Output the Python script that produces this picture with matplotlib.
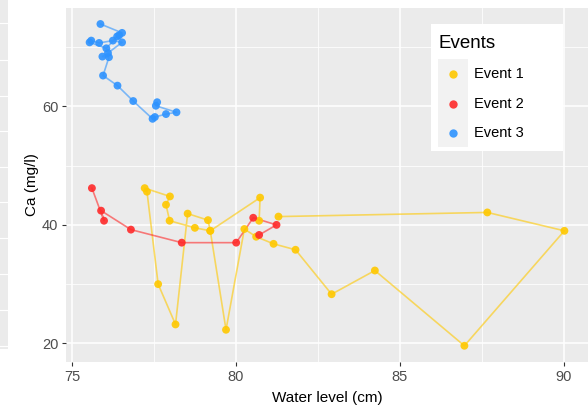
import numpy as np
import matplotlib
matplotlib.use('Agg')
import matplotlib.pyplot as plt
from matplotlib.patches import Rectangle
from matplotlib.lines import Line2D

plt.rcParams['font.family'] = ['Liberation Sans', 'DejaVu Sans']

# Event 1 (yellow) in sampling order
lvl1 = [80.71, 80.74, 79.22, 79.15, 78.53, 78.16, 77.63, 77.29, 77.22, 77.99,
        77.87, 77.98, 78.75, 79.22, 79.70, 80.26, 80.62, 81.15, 81.82, 82.92,
        84.24, 86.97, 90.02, 87.67, 81.30]
ca1 = [40.7, 44.6, 39.0, 40.8, 41.9, 23.2, 30.0, 45.6, 46.2, 44.8,
       43.4, 40.7, 39.5, 39.0, 22.3, 39.3, 38.0, 36.8, 35.8, 28.3,
       32.3, 19.6, 39.0, 42.1, 41.4]

# Event 2 (red)
lvl2 = [75.61, 75.98, 75.89, 76.80, 78.35, 80.01, 80.53, 81.24, 80.71]
ca2 = [46.2, 40.7, 42.4, 39.2, 37.0, 37.0, 41.2, 40.0, 38.3]

# Event 3 (blue)
lvl3 = [75.87, 76.53, 76.44, 76.38, 76.05, 75.54, 75.59, 75.83, 76.25, 76.53,
        76.10, 75.93, 76.13, 75.95, 76.39, 76.87, 77.46, 77.53, 77.87, 78.19,
        77.56, 77.60]
ca3 = [73.9, 72.4, 72.0, 71.8, 69.8, 70.8, 71.1, 70.7, 71.1, 70.8,
       69.0, 68.4, 68.3, 65.2, 63.5, 60.9, 57.9, 58.2, 58.7, 59.0,
       60.1, 60.7]

events = ['Event 1', 'Event 2', 'Event 3']
cols = ['#FFC800', '#FF2A2A', '#2E93FF']

W, H = 588, 409
fig = plt.figure(figsize=(W/100, H/100), dpi=100)

def fx(px): return px/W
def fy(py): return 1 - py/H

# strip of a neighbouring panel on the far left
fig.patches.append(Rectangle((0, fy(349)), fx(8), 349/H, transform=fig.transFigure,
                             facecolor='#EBEBEB', edgecolor='none', zorder=0))
for yy in [23, 60, 96, 131, 167, 202, 238, 274, 310, 346]:
    fig.add_artist(Line2D([0, fx(8)], [fy(yy), fy(yy)], color='white', lw=0.8,
                          transform=fig.transFigure))

ax = fig.add_axes([fx(66), fy(362), fx(588)-fx(66), fy(8)-fy(362)])
ax.set_facecolor('#EBEBEB')
for s in ax.spines.values():
    s.set_visible(False)

for x, y, c in zip([lvl1, lvl2, lvl3], [ca1, ca2, ca3], cols):
    ax.plot(x, y, color=c, lw=1.2, alpha=0.6, zorder=3)
    ax.scatter(x, y, s=32, color=c, alpha=0.9, edgecolors='none', zorder=4)

ax.set_xlim(74.82, 90.74)
ax.set_ylim(16.86, 76.6)
ax.set_xticks([75, 80, 85, 90])
ax.set_yticks([20, 40, 60])
ax.set_xticks([77.5, 82.5, 87.5], minor=True)
ax.set_yticks([30, 50, 70], minor=True)
ax.grid(which='major', color='white', lw=1.1)
ax.grid(which='minor', color='white', lw=0.55)
ax.set_axisbelow(True)
ax.tick_params(which='major', length=3, color='#333333', labelcolor='#4D4D4D',
               labelsize=10.5, pad=2.5)
ax.tick_params(which='minor', length=0)
ax.set_xlabel('Water level (cm)', fontsize=11, labelpad=5)
ax.set_ylabel('Ca (mg/l)', fontsize=11, labelpad=2)

# legend box
fig.patches.append(Rectangle((fx(431), fy(151)), fx(563)-fx(431), (151-24)/H,
                             transform=fig.transFigure, facecolor='white',
                             edgecolor='none', zorder=5))
fig.patches.append(Rectangle((fx(438), fy(147)), fx(468)-fx(438), (147-59)/H,
                             transform=fig.transFigure, facecolor='#F2F2F2',
                             edgecolor='none', zorder=6))
fig.text(fx(438), fy(43), 'Events', fontsize=13.5, va='center', ha='left', zorder=7)
for i, (lab, c) in enumerate(zip(events, cols)):
    yy = [74, 104, 133][i]
    fig.add_artist(Line2D([fx(453)], [fy(yy)], marker='o', ms=6, color=c, alpha=0.9,
                          mec='none', transform=fig.transFigure, zorder=8))
    fig.text(fx(474), fy(yy), lab, fontsize=10.5, va='center', ha='left', zorder=8)

fig.savefig('out.png', dpi=100)
